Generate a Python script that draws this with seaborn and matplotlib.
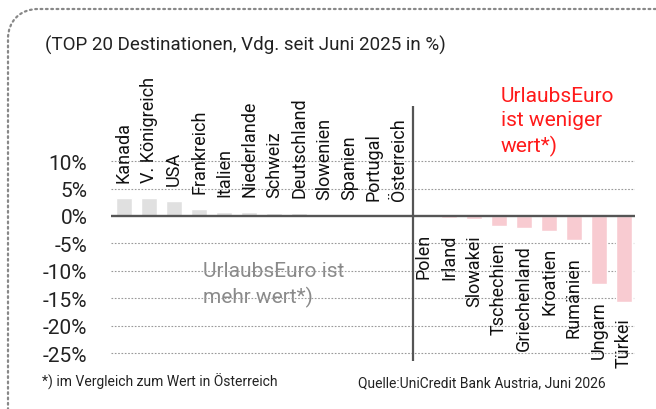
import matplotlib
matplotlib.use("Agg")
import matplotlib.pyplot as plt
from matplotlib.path import Path
from matplotlib.patches import PathPatch
import seaborn as sns
import pandas as pd

# Daten (Vdg. seit Juni 2025 in %)
laender = ["Kanada", "V. Königreich", "USA", "Frankreich", "Italien", "Niederlande",
           "Schweiz", "Deutschland", "Slowenien", "Spanien", "Portugal", "Österreich",
           "Polen", "Irland", "Slowakei", "Tschechien", "Griechenland", "Kroatien",
           "Rumänien", "Ungarn", "Türkei"]
werte = [3.3, 3.2, 2.7, 1.2, 0.7, 0.7, 0.6, 0.5, 0.2, 0.1, 0.05, 0.0,
         -0.1, -0.3, -0.5, -1.8, -2.2, -2.7, -4.4, -12.4, -15.6]
yticks = [-25, -20, -15, -10, -5, 0, 5, 10]

df = pd.DataFrame({"land": laender, "wert": werte})
df["seite"] = ["pos" if i < 12 else "neg" for i in range(len(df))]

sns.set_style("white")
plt.rcParams['font.family'] = ['Roboto', 'DejaVu Sans']

W, H = 656, 410
fig = plt.figure(figsize=(6.56, 4.10), dpi=100)
ax = fig.add_axes([111 / W, 0.1163, 524 / W, 0.7385 - 0.1163])

sns.barplot(data=df, x="land", y="wert", hue="seite",
            palette={"pos": "#e0e0e0", "neg": "#ffc3cc"},
            width=0.67, legend=False, ax=ax, zorder=2)

ax.set_xlim(-0.52, 20.44)
ax.set_ylim(-26.5, 20)
ax.set_yticks(yticks)
ax.set_yticklabels([f"{t}%" for t in yticks], fontsize=15, color="#222222")
ax.set_xticks([])
ax.set_xlabel("")
ax.set_ylabel("")
ax.tick_params(axis="y", length=0, pad=17)
for s in ax.spines.values():
    s.set_visible(False)

for t in yticks:
    if t != 0:
        ax.axhline(t, color="#999999", lw=0.8, ls=(0, (1.5, 1.5)), zorder=1)
ax.axhline(0, color="#555555", lw=1.7, zorder=3)
ax.axvline(11.57, color="#555555", lw=1.6, zorder=3)

# Laendernamen
for i, (name, v) in enumerate(zip(laender, werte)):
    if i < 12:
        ax.annotate(name, (i, v), xytext=(0, 11.5), textcoords="offset points",
                    rotation=90, ha="center", va="bottom", fontsize=13, color="#111111")
    else:
        ax.annotate(name, (i, v), xytext=(0, -11.5), textcoords="offset points",
                    rotation=90, ha="center", va="top", fontsize=13, color="#111111")

ax.text(15.08, 23.6, "UrlaubsEuro\nist weniger\nwert*)", color="#ff1a1a",
        fontsize=15, ha="left", va="top", linespacing=1.32)
ax.text(3.16, -8.3, "UrlaubsEuro ist\nmehr wert*)", color="#8a8a8a",
        fontsize=15, ha="left", va="top", linespacing=1.32, zorder=0)

fig.text(45 / W, 1 - 45 / H, "(TOP 20 Destinationen, Vdg. seit Juni 2025 in %)",
         fontsize=13.5, ha="left", va="center", color="#222222")
fig.text(42 / W, 1 - 382 / H, "*) im Vergleich zum Wert in Österreich",
         fontsize=10, ha="left", va="center", color="#222222")
fig.text(358 / W, 1 - 383 / H, "Quelle:UniCredit Bank Austria, Juni 2026",
         fontsize=10, ha="left", va="center", color="#222222")

# gepunkteter Rahmen mit runder Ecke oben links
px = [(8, 412), (8, 40), (8, 22), (20, 10), (38, 10), (660, 10)]
verts = [(x / W, 1 - y / H) for x, y in px]
codes = [Path.MOVETO, Path.LINETO, Path.CURVE4, Path.CURVE4, Path.CURVE4, Path.LINETO]
rahmen = PathPatch(Path(verts, codes), transform=fig.transFigure, fill=False,
                   edgecolor="#888888", lw=1.6, ls=(0, (0.8, 1.6)), capstyle="round")
fig.add_artist(rahmen)

fig.savefig("out.png", dpi=100)
